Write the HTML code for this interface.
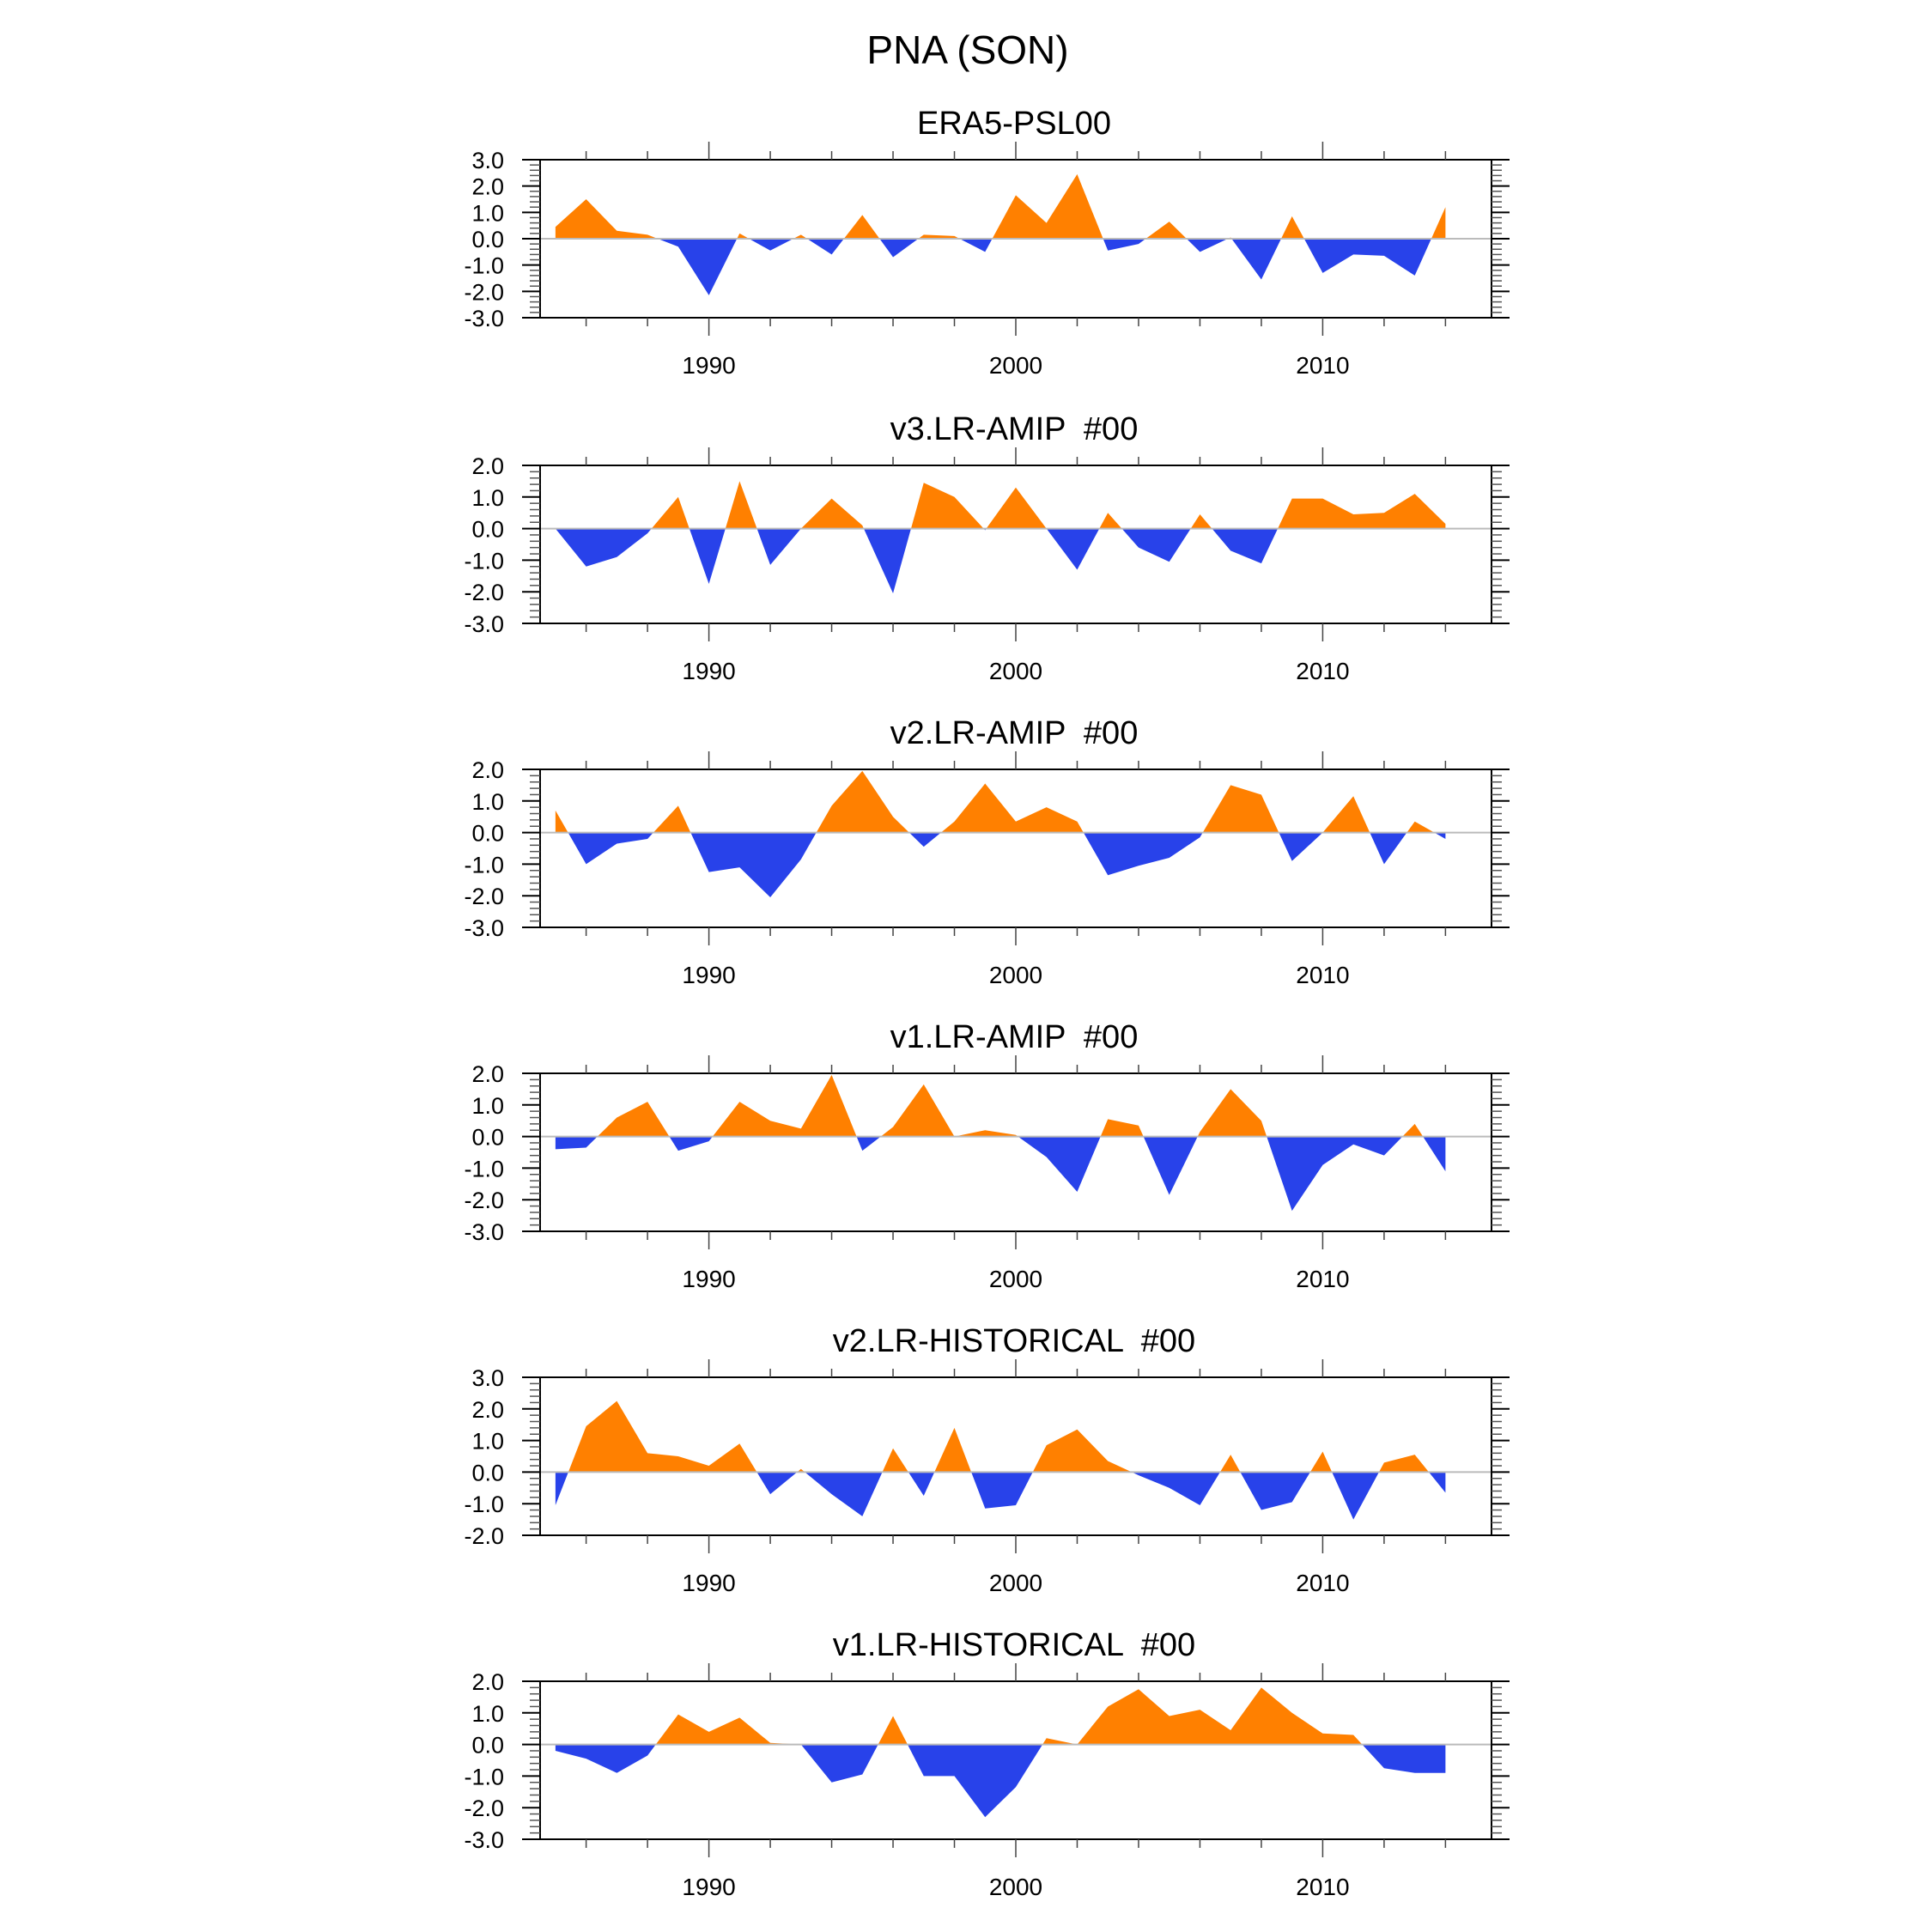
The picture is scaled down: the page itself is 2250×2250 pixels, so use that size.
<!DOCTYPE html>
<html><head><meta charset="utf-8">
<style>
html,body{margin:0;padding:0;background:#fff;}
svg{display:block;font-family:"Liberation Sans",sans-serif;}
text{white-space:pre;}
</style></head>
<body>
<svg id="chart" width="2250" height="2250" viewBox="0 0 2250 2250" xmlns="http://www.w3.org/2000/svg">
<text x="1127" y="74" font-size="46" text-anchor="middle">PNA (SON)</text>
</svg>
<script>
const years = [1985,1986,1987,1988,1989,1990,1991,1992,1993,1994,1995,1996,1997,1998,1999,2000,2001,2002,2003,2004,2005,2006,2007,2008,2009,2010,2011,2012,2013,2014];
const panelTitles = ["ERA5-PSL00","v3.LR-AMIP  #00","v2.LR-AMIP  #00","v1.LR-AMIP  #00","v2.LR-HISTORICAL  #00","v1.LR-HISTORICAL  #00"];
const yMins = [-3,-3,-3,-3,-2,-3];
const yMaxs = [3,2,2,2,3,2];
const xTickLabels = [1990,2000,2010];
const seriesEra5 = [0.45,1.5,0.3,0.15,-0.3,-2.15,0.2,-0.45,0.15,-0.6,0.9,-0.7,0.15,0.1,-0.5,1.65,0.6,2.45,-0.45,-0.2,0.65,-0.5,0.05,-1.55,0.85,-1.3,-0.6,-0.65,-1.4,1.2];
const seriesV3Amip = [0,-1.2,-0.9,-0.15,1.0,-1.75,1.5,-1.15,0,0.95,0.1,-2.05,1.45,1.0,-0.05,1.3,0.0,-1.3,0.5,-0.6,-1.05,0.45,-0.7,-1.1,0.95,0.95,0.45,0.5,1.1,0.15];
const seriesV2Amip = [0.7,-1.0,-0.35,-0.2,0.85,-1.25,-1.1,-2.05,-0.85,0.85,1.95,0.5,-0.45,0.35,1.55,0.35,0.8,0.35,-1.35,-1.05,-0.8,-0.15,1.5,1.2,-0.9,0.0,1.15,-1.0,0.35,-0.2];
const seriesV1Amip = [-0.4,-0.35,0.6,1.1,-0.45,-0.15,1.1,0.5,0.25,1.95,-0.45,0.3,1.65,0.0,0.2,0.05,-0.65,-1.75,0.55,0.35,-1.85,0.15,1.5,0.5,-2.35,-0.9,-0.25,-0.6,0.4,-1.1];
const seriesV2Hist = [-1.05,1.45,2.25,0.6,0.5,0.2,0.9,-0.7,0.1,-0.7,-1.4,0.75,-0.75,1.4,-1.15,-1.05,0.85,1.35,0.35,-0.1,-0.5,-1.05,0.55,-1.2,-0.95,0.65,-1.5,0.3,0.55,-0.65];
const seriesV1Hist = [-0.2,-0.45,-0.9,-0.35,0.95,0.4,0.85,0.05,0.0,-1.2,-0.95,0.9,-1.0,-1.0,-2.3,-1.35,0.2,0.0,1.2,1.75,0.9,1.1,0.45,1.8,1.0,0.35,0.3,-0.75,-0.9,-0.9];
const allSeries = [seriesEra5,seriesV3Amip,seriesV2Amip,seriesV1Amip,seriesV2Hist,seriesV1Hist];

const NS="http://www.w3.org/2000/svg";
const svg=document.getElementById('chart');
const L=629,R=1737,X0=1984.5,X1=2015.5,PH=184;
const tops=[186,542,896,1250,1604,1958];
function xs(v){return L+(v-X0)/(X1-X0)*(R-L);}
function mk(tag,attrs,parent){const e=document.createElementNS(NS,tag);for(const k in attrs)e.setAttribute(k,attrs[k]);(parent||svg).appendChild(e);return e;}
function line(g,x1,y1,x2,y2,w,c){return mk('line',{x1:x1,y1:y1,x2:x2,y2:y2,stroke:c||'#000','stroke-width':w||2},g);}

allSeries.forEach((data,p)=>{
  const top=tops[p],bot=top+PH,mn=yMins[p],mx=yMaxs[p];
  const ys=v=>bot-(v-mn)/(mx-mn)*PH;
  const g=mk('g',{});
  
  
  const t=mk('text',{x:(L+R)/2-2,y:top-30,'font-size':38,'text-anchor':'middle'},g);
  
  
  t.textContent=panelTitles[p];
  const z=ys(0);
  const cpA=mk('clipPath',{id:'ca'+p},g);mk('rect',{x:L,y:top,width:R-L,height:z-top},cpA);
  const cpB=mk('clipPath',{id:'cb'+p},g);mk('rect',{x:L,y:z,width:R-L,height:bot-z},cpB);
  let pts=xs(years[0])+','+z+' ';
  data.forEach((v,i)=>{pts+=xs(years[i])+','+ys(v)+' ';});
  pts+=xs(years[years.length-1])+','+z;
  const pa=mk('polygon',{points:pts,fill:'#ff8000','clip-path':'url(#ca'+p+')'},g);
  
  
  const pb=mk('polygon',{points:pts,fill:'#2842ea','clip-path':'url(#cb'+p+')'},g);
  
  
  line(g,L,z,R,z,2,'#bbb');
  const fr=mk('rect',{x:L,y:top,width:R-L,height:PH,fill:'none',stroke:'#000','stroke-width':2},g);
  
  
  for(let k=Math.round(mn*5);k<=Math.round(mx*5);k++){
    const v=k/5,y=ys(v),major=k%5===0;
    const len=major?21:12;
    line(g,L-len,y,L,y,major?2:1.5,major?'#000':'#555');
    line(g,R,y,R+len,y,major?2:1.5,major?'#000':'#555');
    if(major){
      const tl=mk('text',{x:L-42,y:y+10,'font-size':27,'text-anchor':'end'},g);
      
      
      tl.textContent=v.toFixed(1);
    }
  }
  for(let yr=1986;yr<=2014;yr+=2){
    const x=xs(yr),major=yr%10===0,len=major?21:10;
    line(g,x,top-len,x,top,1.5,'#444');
    line(g,x,bot,x,bot+len,1.5,'#444');
  }
  xTickLabels.forEach(yr=>{
    const tl=mk('text',{x:xs(yr),y:bot+65,'font-size':28,'text-anchor':'middle'},g);
    
    
    tl.textContent=yr;
  });
});
</script>
</body></html>
